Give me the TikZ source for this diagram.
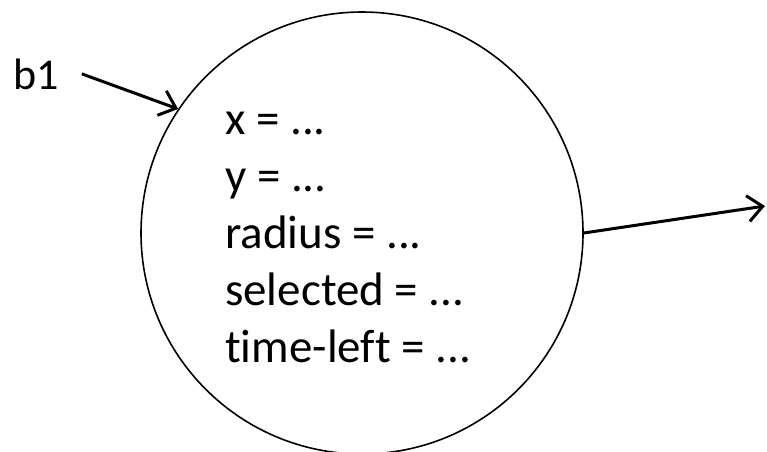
\documentclass[tikz,border=0pt]{standalone}
\usepackage{fontspec}
\setmainfont{Carlito}[Ligatures={NoCommon,NoDiscretionary,NoContextual}]
\usetikzlibrary{arrows.meta}

\begin{document}
\begin{tikzpicture}[
  x=1pt, y=-1pt,
  font=\fontsize{44}{57}\selectfont,
  state/.style={draw, circle, line width=1.6pt, minimum size=442pt, inner sep=0pt},
  fields/.style={align=left, anchor=north west, inner sep=0pt, font=\fontsize{47}{57}\selectfont},
  lab/.style={anchor=base west, inner sep=0pt},
  link/.style={line width=3pt, -{Straight Barb[length=15pt,width=26pt]}}
]
\useasboundingbox (0,0) rectangle (767,451);

% Ball and its fields.
\node[state] (blob) at (362,233) {};
\node[fields] (vals) at (225,112) {x = ...\\y = ...\\radius = ...\\selected = ...\\time-left = ...};

% Name and arrows.
\node[lab] (b1) at (13,89) {b1};
\coordinate (next) at (765,206);
\draw[link] ([xshift=23pt]b1.east) -- (blob.146.8);
\draw[link] (blob.east) -- (next);
\end{tikzpicture}
\end{document}
